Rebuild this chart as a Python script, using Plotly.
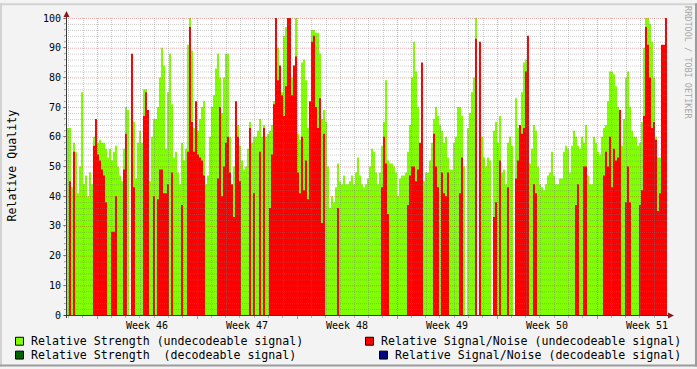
import plotly.graph_objects as go

# ---------------- data ----------------
WEEK_LABELS = ["Week 46", "Week 47", "Week 48", "Week 49", "Week 50", "Week 51"]
Y_TICKS = [0, 10, 20, 30, 40, 50, 60, 70, 80, 90, 100]
START_HOURS = -50.4      # first sample, hours relative to start of week 46
STEP_HOURS = 3.36        # sampling step (hours)

# Relative Strength (undecodeable signal)
strength_undecodeable = [
    63, 63, 43, 58, 55, 41, 50, 75, 44, 47,
    40, 48, 44, 60, 63, 58, 59, 58, 58, 56,
    53, 56, 52, 55, 57, 50, 47, 45, 56, 70,
    69, 0, 0, 65, 46, 58, 62, 58, 76, 76,
    50, 45, 60, 66, 66, 70, 80, 90, 84, 56,
    75, 88, 71, 53, 55, 48, 44, 58, 52, 56,
    91, 100, 89, 63, 70, 62, 66, 70, 72, 44,
    47, 60, 70, 74, 83, 88, 80, 68, 80, 88,
    88, 60, 44, 50, 63, 64, 57, 52, 49, 50,
    56, 65, 58, 60, 60, 62, 66, 60, 64, 60,
    61, 62, 64, 72, 92, 90, 82, 75, 94, 97,
    97, 100, 80, 84, 100, 61, 59, 85, 86, 79,
    63, 62, 96, 96, 95, 95, 88, 66, 69, 65,
    50, 36, 40, 38, 43, 51, 45, 44, 47, 44,
    44, 45, 47, 44, 48, 53, 47, 44, 43, 44,
    46, 50, 56, 55, 48, 44, 48, 57, 65, 79,
    52, 51, 51, 50, 48, 40, 46, 47, 47, 48,
    55, 64, 80, 92, 82, 70, 56, 55, 45, 48,
    48, 52, 58, 66, 70, 67, 64, 62, 58, 60,
    53, 49, 49, 58, 60, 70, 70, 67, 50, 0,
    63, 68, 75, 80, 100, 0, 0, 60, 53, 50,
    53, 52, 0, 62, 65, 58, 67, 48, 49, 44,
    58, 60, 57, 0, 73, 63, 62, 75, 85, 86,
    75, 51, 56, 64, 62, 50, 44, 43, 42, 44,
    47, 48, 55, 47, 44, 44, 46, 46, 55, 57,
    56, 48, 57, 62, 60, 57, 56, 60, 58, 64,
    47, 44, 44, 60, 58, 55, 54, 60, 63, 64,
    72, 82, 82, 81, 77, 70, 56, 57, 66, 80,
    82, 70, 62, 60, 60, 57, 58, 65, 90, 100,
    100, 98, 92, 80, 60, 53, 53, 0, 0, 0,
]

# Relative Signal/Noise (undecodeable signal)
snr_undecodeable = [
    0, 45, 0, 55, 0, 0, 0, 0, 0, 0,
    0, 0, 0, 57, 66, 54, 52, 49, 47, 38,
    0, 0, 28, 28, 40, 0, 0, 0, 49, 61,
    0, 0, 88, 43, 0, 0, 0, 0, 67, 75,
    69, 0, 0, 40, 0, 39, 49, 49, 41, 41,
    44, 0, 48, 0, 0, 0, 0, 37, 0, 0,
    55, 97, 65, 55, 72, 54, 53, 52, 47, 0,
    0, 0, 0, 0, 0, 46, 70, 40, 50, 58,
    60, 48, 44, 33, 72, 60, 45, 0, 0, 0,
    0, 63, 0, 41, 0, 0, 55, 0, 63, 0,
    0, 36, 54, 71, 100, 79, 84, 74, 67, 77,
    100, 100, 74, 84, 87, 48, 41, 60, 42, 52,
    39, 72, 92, 94, 70, 63, 73, 31, 61, 0,
    0, 0, 0, 0, 0, 36, 0, 0, 0, 0,
    0, 0, 0, 0, 0, 0, 0, 0, 0, 0,
    0, 0, 0, 0, 0, 0, 0, 43, 60, 51,
    34, 0, 0, 0, 0, 0, 0, 0, 0, 0,
    37, 47, 50, 50, 45, 49, 58, 85, 0, 0,
    0, 0, 0, 61, 50, 43, 0, 48, 41, 40,
    48, 0, 0, 0, 0, 0, 41, 53, 0, 0,
    0, 0, 0, 0, 93, 0, 92, 0, 0, 0,
    0, 0, 0, 33, 38, 0, 52, 0, 0, 0,
    43, 0, 0, 0, 46, 52, 64, 61, 63, 82,
    94, 0, 0, 44, 41, 0, 0, 0, 0, 0,
    0, 0, 0, 0, 0, 0, 0, 0, 0, 0,
    0, 0, 0, 0, 37, 44, 0, 0, 50, 50,
    0, 0, 0, 0, 0, 0, 0, 0, 47, 55,
    50, 60, 43, 56, 52, 53, 69, 0, 0, 38,
    50, 38, 0, 0, 0, 0, 37, 42, 67, 97,
    91, 80, 63, 65, 59, 35, 41, 91, 91, 100,
]

LEGEND_LABELS = [
    "Relative Strength (undecodeable signal)",
    "Relative Signal/Noise (undecodeable signal)",
    "Relative Strength  (decodeable signal)",
    "Relative Signal/Noise (decodeable signal)",
]
LEGEND_COLORS = ["#7FFF00", "#FF0000", "#006400", "#000080"]
CREDIT = "RRDTOOL / TOBI OETIKER"
Y_TITLE = "Relative Quality"

# ---------------- geometry ----------------
W, H = 697, 369
L, R, T, B = 67, 667, 15, 315
HPX = 1.68  # hours per pixel
X0 = START_HOURS
X1 = X0 + (R - L) * HPX
FONT = "DejaVu Sans Mono"


def pxx(xp):
    return (xp - L) / (R - L)


def pyy(yp):
    return (B - yp) / (B - T)


def t2px(t):
    return L + (t - X0) / HPX


n = len(strength_undecodeable)
edges = [START_HOURS + STEP_HOURS * i for i in range(n + 1)]

fig = go.Figure()
fig.add_trace(go.Scatter(
    x=edges, y=strength_undecodeable + [strength_undecodeable[-1]],
    mode="lines", line=dict(width=0, shape="hv"), fill="tozeroy",
    fillcolor=LEGEND_COLORS[0], hoverinfo="skip", showlegend=False))
fig.add_trace(go.Scatter(
    x=edges, y=snr_undecodeable + [snr_undecodeable[-1]],
    mode="lines", line=dict(width=0, shape="hv"), fill="tozeroy",
    fillcolor=LEGEND_COLORS[1], hoverinfo="skip", showlegend=False))

shapes = []
MINOR = "rgba(120,120,120,0.38)"
MAJOR = "rgba(200,50,50,0.42)"
DOT = "1px,1px"

# horizontal grid
for v in range(2, 101, 2):
    yp = B - v * (B - T) / 100 + 0.5
    col = MAJOR if v % 10 == 0 else MINOR
    shapes.append(dict(type="line", xref="paper", yref="paper", layer="above",
                       x0=pxx(L - 3), x1=pxx(R), y0=pyy(yp), y1=pyy(yp),
                       line=dict(color=col, width=1, dash=DOT)))

# vertical grid (days, weeks)
d = int(X0 // 24) + 1
while 24 * d < X1:
    xp = round(t2px(24 * d)) + 0.5
    if xp > L:
        col = MAJOR if d % 7 == 0 else MINOR
        shapes.append(dict(type="line", xref="paper", yref="paper", layer="above",
                           x0=pxx(xp), x1=pxx(xp), y0=pyy(B), y1=pyy(T),
                           line=dict(color=col, width=1, dash=DOT)))
    d += 1

# axes lines
AX = "#3a3a3a"
shapes.append(dict(type="line", xref="paper", yref="paper", layer="above",
                   x0=pxx(64), x1=pxx(670), y0=pyy(315.5), y1=pyy(315.5),
                   line=dict(color=AX, width=1)))
shapes.append(dict(type="line", xref="paper", yref="paper", layer="above",
                   x0=pxx(66.5), x1=pxx(66.5), y0=pyy(318), y1=pyy(11),
                   line=dict(color=AX, width=1)))
ARROW = "#8B1A1A"


def path(points):
    s = "M " + " L ".join(f"{pxx(a)},{pyy(b)}" for a, b in points) + " Z"
    return s


shapes.append(dict(type="path", xref="paper", yref="paper", layer="above",
                   path=path([(63.5, 14), (69.5, 14), (66.5, 8)]),
                   fillcolor=ARROW, line=dict(width=0)))
shapes.append(dict(type="path", xref="paper", yref="paper", layer="above",
                   path=path([(668, 312.5), (668, 318.5), (674, 315.5)]),
                   fillcolor=ARROW, line=dict(width=0)))

# frame (3D border)
shapes.append(dict(type="rect", xref="paper", yref="paper", layer="below",
                   x0=pxx(0), x1=pxx(W), y0=pyy(0), y1=pyy(2),
                   fillcolor="#D2D2D2", line=dict(width=0)))
shapes.append(dict(type="rect", xref="paper", yref="paper", layer="below",
                   x0=pxx(0), x1=pxx(2), y0=pyy(0), y1=pyy(367),
                   fillcolor="#D2D2D2", line=dict(width=0)))
shapes.append(dict(type="rect", xref="paper", yref="paper", layer="below",
                   x0=pxx(0), x1=pxx(W), y0=pyy(365), y1=pyy(367),
                   fillcolor="#9C9C9C", line=dict(width=0)))
shapes.append(dict(type="rect", xref="paper", yref="paper", layer="below",
                   x0=pxx(695), x1=pxx(697), y0=pyy(0), y1=pyy(367),
                   fillcolor="#9C9C9C", line=dict(width=0)))

annotations = []
# week labels
for i, lab in enumerate(WEEK_LABELS):
    annotations.append(dict(text=lab, x=168 * i + 84, xref="x", y=pyy(325.5), yref="paper",
                            showarrow=False, xanchor="center", yanchor="middle",
                            font=dict(family=FONT, size=10, color="#000"), borderpad=0))

# legend
LEG_POS = [(15, 341.5, 30), (365, 341.5, 380), (15, 355.5, 30), (379, 355.5, 394)]
for lab, colr, (bx, cy, tx) in zip(LEGEND_LABELS, LEGEND_COLORS, LEG_POS):
    shapes.append(dict(type="rect", xref="paper", yref="paper", layer="above",
                       x0=pxx(bx + 0.5), x1=pxx(bx + 8.5), y0=pyy(cy - 4), y1=pyy(cy + 4),
                       fillcolor=colr, line=dict(color="#000", width=1)))
    annotations.append(dict(text=lab.replace(" ", "&nbsp;"), x=pxx(tx), xref="paper", y=pyy(cy), yref="paper",
                            showarrow=False, xanchor="left", yanchor="middle",
                            font=dict(family=FONT, size=11.6, color="#000"), borderpad=0))

annotations.append(dict(text=Y_TITLE, x=pxx(12), xref="paper", y=pyy(164), yref="paper",
                        showarrow=False, textangle=-90, xanchor="center", yanchor="middle",
                        font=dict(family=FONT, size=11.6, color="#000"), borderpad=0))
annotations.append(dict(text=CREDIT, x=pxx(688.5), xref="paper", y=pyy(60), yref="paper",
                        showarrow=False, textangle=90, xanchor="center", yanchor="middle",
                        font=dict(family=FONT, size=8.5, color="#A8A8A8"), borderpad=0))

week_starts = [168 * i for i in range(len(WEEK_LABELS))]
day_ticks = [24 * k for k in range(int(X0 // 24) + 1, int(X1 // 24) + 1) if k % 7 != 0]

fig.update_layout(
    width=W, height=H,
    margin=dict(l=L, r=W - R, t=T, b=H - B),
    paper_bgcolor="#F3F3F3", plot_bgcolor="#FFFFFF",
    showlegend=False,
    shapes=shapes, annotations=annotations,
    xaxis=dict(range=[X0, X1], showgrid=False, zeroline=False, showline=False,
               tickvals=week_starts, ticktext=["" for _ in week_starts],
               ticks="outside", ticklen=3, tickcolor="rgba(200,50,50,0.6)",
               minor=dict(tickvals=day_ticks, ticks="outside", ticklen=2,
                          tickcolor="rgba(120,120,120,0.5)", showgrid=False),
               fixedrange=True),
    yaxis=dict(range=[0, 100], showgrid=False, zeroline=False, showline=False,
               tickvals=Y_TICKS, ticktext=[str(v) for v in Y_TICKS],
               ticks="outside", ticklen=3, tickcolor="rgba(200,50,50,0.6)",
               minor=dict(dtick=2, tick0=0, ticks="outside", ticklen=2,
                          tickcolor="rgba(120,120,120,0.5)", showgrid=False),
               tickfont=dict(family=FONT, size=10, color="#000"),
               fixedrange=True),
)

fig.write_html("out.html", config={"displayModeBar": False},
               post_script="document.body.style.margin='0';document.body.style.background='#F3F3F3';")
